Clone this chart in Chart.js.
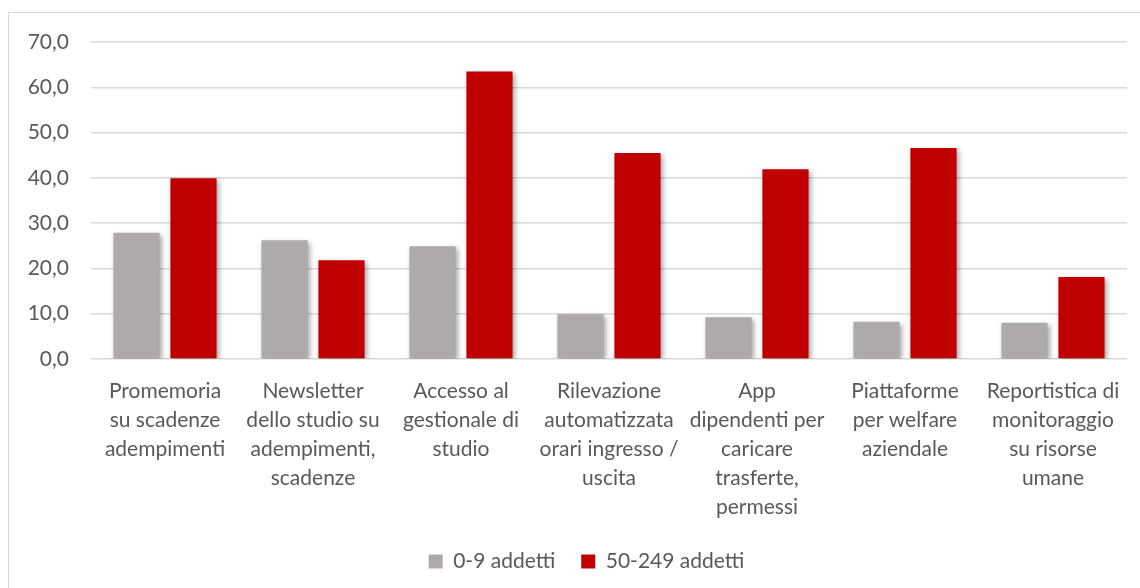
<!DOCTYPE html>
<html lang="it">
<head>
    <meta charset="UTF-8">
    <title>Servizi digitali per classe di addetti</title>
    <script src="https://cdn.jsdelivr.net/npm/chart.js"></script>
    <style>
        html, body {
            margin: 0;
            padding: 0;
            background: #ffffff;
            overflow: hidden;
        }
        .frame {
            position: absolute;
            left: 8px;
            top: 12px;
            width: 1200px;
            height: 700px;
            border: 1.5px solid #d9d9d9;
        }
        .wrap {
            position: absolute;
            left: 0;
            top: 0;
            width: 1140px;
            height: 588px;
        }
    </style>
</head>
<body>
<div class="frame"></div>
<div class="wrap">
    <canvas id="chart"></canvas>
</div>

<script>
    // Categorie (etichette su più righe come nel grafico originale)
    const categorie = [
        ['Promemoria', 'su scadenze', 'adempimenti'],
        ['Newsletter', 'dello studio su', 'adempimenti,', 'scadenze'],
        ['Accesso al', 'gestionale di', 'studio'],
        ['Rilevazione', 'automatizzata', 'orari ingresso /', 'uscita'],
        ['App', 'dipendenti per', 'caricare', 'trasferte,', 'permessi'],
        ['Piattaforme', 'per welfare', 'aziendale'],
        ['Reportistica di', 'monitoraggio', 'su risorse', 'umane']
    ];

    const piccoli = [27.9, 26.2, 24.9, 9.9, 9.2, 8.2, 8.0];
    const medi = [39.9, 21.8, 63.5, 45.5, 41.9, 46.6, 18.1];

    const serieNomi = ['0-9 addetti', '50-249 addetti'];
    const yTicks = [0, 10, 20, 30, 40, 50, 60, 70];

    const testo = '#595959';
    const fontBase = 'Lato, "Open Sans", sans-serif';

    // ombra leggera sotto le barre, come in Excel
    const ombra = {
        id: 'ombra',
        beforeDatasetsDraw(chart) {
            const ctx = chart.ctx;
            ctx.save();
            ctx.shadowColor = 'rgba(0,0,0,0.35)';
            ctx.shadowBlur = 5;
            ctx.shadowOffsetX = 2;
            ctx.shadowOffsetY = 2;
        },
        afterDatasetsDraw(chart) {
            chart.ctx.restore();
        }
    };

    // la legenda nell'originale è un po' spostata a destra
    const spostaLegenda = {
        id: 'spostaLegenda',
        afterLayout(chart) {
            chart.legend.left += 13;
            chart.legend.right += 13;
        }
    };

    const ctx = document.getElementById('chart').getContext('2d');

    new Chart(ctx, {
        type: 'bar',
        data: {
            labels: categorie,
            datasets: [
                {
                    label: serieNomi[0],
                    data: piccoli,
                    backgroundColor: '#aeaaaa'
                },
                {
                    label: serieNomi[1],
                    data: medi,
                    backgroundColor: '#c00000'
                }
            ]
        },
        options: {
            responsive: true,
            maintainAspectRatio: false,
            animation: false,
            categoryPercentage: 0.77,
            barPercentage: 0.81,
            layout: {
                padding: { left: 20, right: 13, top: 42, bottom: 6 }
            },
            scales: {
                x: {
                    grid: { display: false },
                    border: { display: false },
                    afterFit(axis) {
                        axis.height = 166;
                    },
                    ticks: {
                        color: testo,
                        font: { family: fontBase, size: 21, lineHeight: 1.38 },
                        maxRotation: 0,
                        autoSkip: false,
                        padding: 10
                    }
                },
                y: {
                    min: 0,
                    max: 70,
                    afterBuildTicks(axis) {
                        axis.ticks = yTicks.map(v => ({ value: v }));
                    },
                    afterFit(axis) {
                        axis.width = 71;
                    },
                    grid: {
                        color: '#d9d9d9',
                        lineWidth: 1.5,
                        drawTicks: false
                    },
                    border: { display: false },
                    ticks: {
                        color: testo,
                        font: { family: fontBase, size: 21 },
                        padding: 22,
                        callback: v => v.toFixed(1).replace('.', ',')
                    }
                }
            },
            plugins: {
                legend: {
                    position: 'bottom',
                    labels: {
                        color: testo,
                        font: { family: fontBase, size: 21 },
                        boxWidth: 14,
                        boxHeight: 14,
                        padding: 26
                    }
                },
                tooltip: { enabled: false }
            }
        },
        plugins: [ombra, spostaLegenda]
    });
</script>
</body>
</html>
